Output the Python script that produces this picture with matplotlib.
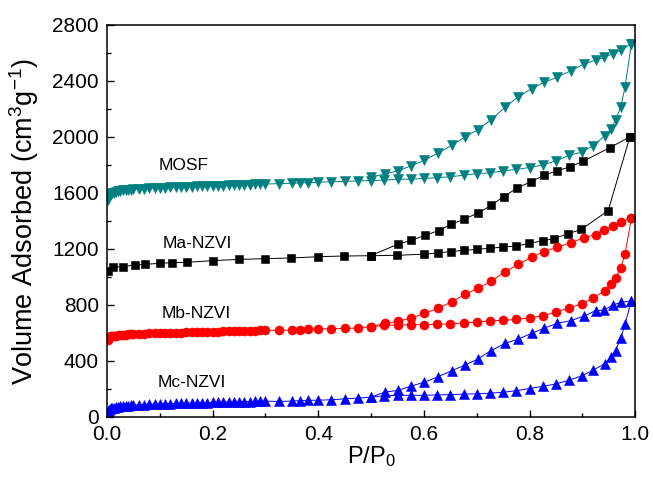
import matplotlib
matplotlib.use("Agg")
import matplotlib.pyplot as plt
from matplotlib.ticker import MultipleLocator

plt.rcParams["font.family"] = ["Liberation Sans", "DejaVu Sans"]
plt.rcParams["mathtext.fontset"] = "custom"
plt.rcParams["mathtext.rm"] = "Liberation Sans"

# relative pressure points of the adsorption runs (MOSF, Mb, Mc)
p_ads = [0.001, 0.002, 0.004, 0.006, 0.008, 0.01, 0.013, 0.016, 0.02, 0.025,
         0.03, 0.035, 0.04, 0.045, 0.05, 0.06, 0.07, 0.08, 0.09, 0.10,
         0.11, 0.12, 0.13, 0.14, 0.15, 0.16, 0.17, 0.18, 0.19, 0.20,
         0.21, 0.22, 0.23, 0.24, 0.25, 0.26, 0.27, 0.28, 0.29,
         0.30, 0.325, 0.35, 0.365, 0.38, 0.40, 0.425, 0.45, 0.475, 0.50,
         0.525, 0.55, 0.575, 0.60, 0.625, 0.65, 0.675, 0.70, 0.725, 0.75,
         0.775, 0.80, 0.825, 0.85, 0.875, 0.90, 0.92, 0.943, 0.955, 0.963,
         0.973, 0.981, 0.993]

# desorption points (MOSF, Mb, Mc)
p_des = [0.993, 0.974, 0.958, 0.941, 0.925, 0.903, 0.878, 0.852, 0.827, 0.804,
         0.779, 0.754, 0.727, 0.702, 0.678, 0.653, 0.627, 0.601, 0.576, 0.551,
         0.526, 0.50]

mosf_ads = [1550, 1565, 1578, 1588, 1594, 1598, 1603, 1607, 1611, 1615,
            1618, 1620, 1622, 1624, 1626, 1629, 1631, 1633, 1635, 1637,
            1638, 1640, 1641, 1643, 1644, 1645, 1647, 1648, 1649, 1651,
            1652, 1653, 1654, 1656, 1657, 1658, 1659, 1661, 1662,
            1664, 1667, 1670, 1672, 1674, 1677, 1680, 1683, 1686, 1689,
            1692, 1697, 1699, 1704, 1710, 1716, 1727, 1738, 1744, 1758,
            1768, 1782, 1799, 1830, 1868, 1893, 1938, 2010, 2059, 2125,
            2213, 2360, 2667]
mosf_des = [2667, 2620, 2596, 2568, 2549, 2521, 2473, 2426, 2390, 2345,
            2289, 2213, 2123, 2052, 2000, 1941, 1886, 1834, 1794, 1759,
            1735, 1716]

mb_ads = [550, 560, 568, 573, 576, 578, 580, 582, 584, 586,
          588, 589, 590, 591, 592, 594, 595, 597, 598, 599,
          600, 601, 602, 603, 604, 605, 606, 607, 608, 609,
          610, 611, 612, 613, 614, 615, 616, 617, 618,
          620, 619, 621, 624, 626, 629, 630, 633, 636, 645,
          655, 658, 659, 660, 661, 666, 672, 678, 686, 691,
          697, 708, 723, 749, 780, 810, 850, 902, 949, 992,
          1067, 1167, 1420]
mb_des = [1420, 1396, 1361, 1337, 1302, 1280, 1245, 1212, 1181, 1141,
          1091, 1038, 969, 920, 876, 824, 776, 740, 707, 683,
          669, 645]

mc_ads = [36, 45, 52, 57, 61, 64, 67, 70, 73, 76,
          78, 80, 82, 83, 85, 87, 89, 91, 92, 94,
          95, 96, 97, 98, 99, 100, 101, 102, 103, 104,
          105, 106, 107, 108, 109, 110, 110, 111, 112,
          113, 111, 114, 117, 119, 120, 123, 130, 135, 142,
          152, 155, 155, 155, 158, 160, 163, 166, 170, 177,
          188, 203, 219, 236, 263, 295, 334, 381, 430, 474,
          565, 664, 830]
mc_des = [830, 820, 800, 764, 759, 721, 688, 669, 633, 598,
          557, 526, 474, 414, 371, 331, 288, 249, 221, 190,
          178, 142]

# Ma-NZVI was measured on a coarser grid
ma_p_ads = [0.002, 0.011, 0.030, 0.052, 0.071, 0.100, 0.122, 0.152, 0.201, 0.250,
            0.300, 0.349, 0.400, 0.449, 0.499, 0.549, 0.600, 0.627, 0.651, 0.676,
            0.700, 0.725, 0.750, 0.775, 0.799, 0.825, 0.846, 0.873, 0.898, 0.949,
            0.990]
ma_ads = [1040, 1069, 1074, 1086, 1090, 1098, 1102, 1105, 1117, 1126,
          1131, 1136, 1145, 1150, 1152, 1155, 1163, 1172, 1182, 1190,
          1198, 1205, 1214, 1221, 1240, 1259, 1274, 1309, 1340, 1474,
          2000]
ma_p_des = [0.990, 0.952, 0.902, 0.877, 0.852, 0.828, 0.803, 0.777, 0.751, 0.727,
            0.703, 0.676, 0.652, 0.628, 0.602, 0.576, 0.550, 0.499]
ma_des = [2000, 1924, 1827, 1787, 1758, 1728, 1681, 1636, 1574, 1511,
          1457, 1414, 1376, 1332, 1297, 1262, 1233, 1152]

fig = plt.figure(figsize=(6.53, 5.0), dpi=100)
ax = fig.add_axes([0.164, 0.166, 0.8086, 0.784])

teal = "#008080"
kw = dict(lw=0.7, mew=0.4)
ax.plot(p_ads, mosf_ads, "v-", color=teal, ms=7, **kw)
ax.plot(p_des, mosf_des, "v-", color=teal, ms=7, **kw)
ax.plot(ma_p_ads, ma_ads, "s-", color="black", ms=5.8, **kw)
ax.plot(ma_p_des, ma_des, "s-", color="black", ms=5.8, **kw)
ax.plot(p_ads, mb_ads, "o-", color="red", ms=6.5, **kw)
ax.plot(p_des, mb_des, "o-", color="red", ms=6.5, **kw)
ax.plot(p_ads, mc_ads, "^-", color="blue", ms=7, **kw)
ax.plot(p_des, mc_des, "^-", color="blue", ms=7, **kw)

ax.text(0.145, 1800, "MOSF", fontsize=12.5, ha="center", va="center")
ax.text(0.171, 1236, "Ma-NZVI", fontsize=12.5, ha="center", va="center")
ax.text(0.168, 740, "Mb-NZVI", fontsize=12.5, ha="center", va="center")
ax.text(0.161, 243, "Mc-NZVI", fontsize=12.5, ha="center", va="center")

ax.set_xlim(0, 1.0)
ax.set_ylim(0, 2800)
ax.xaxis.set_major_locator(MultipleLocator(0.2))
ax.xaxis.set_minor_locator(MultipleLocator(0.1))
ax.yaxis.set_major_locator(MultipleLocator(400))
ax.yaxis.set_minor_locator(MultipleLocator(200))
ax.xaxis.set_major_formatter(plt.FormatStrFormatter("%.1f"))
ax.tick_params(which="both", direction="in", top=False, right=False, width=1)
ax.tick_params(which="major", length=5, labelsize=15, pad=6)
ax.tick_params(which="minor", length=3)
for s in ax.spines.values():
    s.set_linewidth(1.1)

ax.set_xlabel(r"P/P$\mathregular{_0}$", fontsize=17)
ax.set_ylabel(r"Volume Adsorbed (cm$\mathregular{^3}$g$\mathregular{^{-1}}$)", fontsize=19.5)
ax.xaxis.set_label_coords(0.5, -0.07)
ax.yaxis.set_label_coords(-0.125, 0.5)

fig.savefig("out.png", dpi=100)
